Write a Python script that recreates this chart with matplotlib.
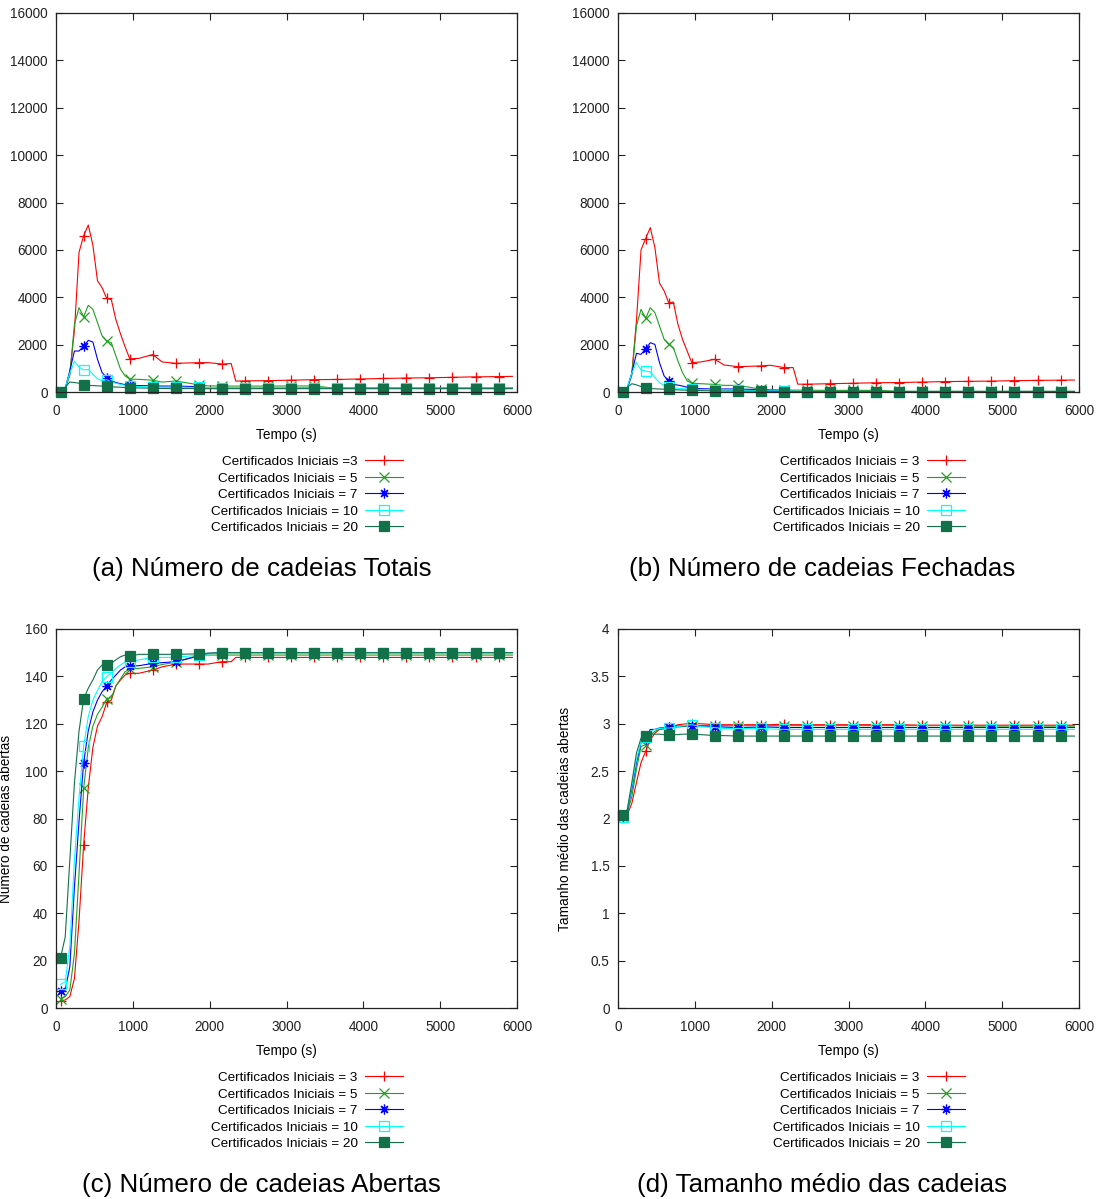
import matplotlib
matplotlib.use("Agg")
import matplotlib.pyplot as plt
from matplotlib.ticker import FormatStrFormatter

plt.rcParams["font.family"] = ["Liberation Sans", "DejaVu Sans"]

# sample times (s); markers are drawn every 300 s starting at 60 s
tempo = [60, 120, 180, 240, 300, 360, 420, 480, 540, 600, 660, 720, 780, 840, 900, 960,
         1080, 1260, 1380, 1560, 1860, 1980, 2160, 2280, 2340,
         2460, 2760, 3060, 3360, 3660, 3960, 4260, 4560, 4860, 5160, 5460, 5760,
         5940]
marker_times = [60, 360, 660, 960, 1260, 1560, 1860, 2160, 2460, 2760, 3060, 3360,
                3660, 3960, 4260, 4560, 4860, 5160, 5460, 5760]

# ── (a) total chains ─────────────────────────────────────────────────────────
tot_c3 = [0, 150, 800, 2600, 5900, 6600, 7050, 6200, 4700, 4400, 3950, 3900, 3050, 2450, 1900, 1400,
          1420, 1580, 1270, 1210, 1240, 1240, 1180, 1200, 460,
          470, 480, 500, 520, 530, 550, 570, 590, 600, 620, 640, 650,
          660]
tot_c5 = [0, 120, 700, 2860, 3560, 3180, 3660, 3490, 2930, 2370, 2150, 2080, 1520, 960, 680, 540,
          535, 495, 420, 465, 300, 260, 250, 250, 250,
          250, 250, 255, 255, 150, 150, 150, 150, 150, 150, 150, 150,
          150]
tot_c7 = [0, 150, 900, 1730, 1730, 1940, 2180, 2110, 1380, 820, 600, 470, 400, 350, 310, 280,
          270, 260, 250, 250, 225, 185, 170, 170, 170,
          170, 170, 170, 170, 170, 170, 170, 170, 170, 170, 170, 170,
          170]
tot_c10 = [0, 200, 800, 1300, 1050, 930, 960, 750, 560, 470, 520, 420, 370, 320, 280, 250,
           230, 210, 200, 200, 190, 185, 180, 180, 180,
           180, 180, 170, 170, 170, 170, 170, 170, 170, 170, 170, 170,
           170]
tot_c20 = [0, 200, 420, 400, 370, 290, 280, 270, 260, 250, 240, 220, 210, 200, 190, 180,
           170, 160, 150, 150, 145, 140, 140, 140, 140,
           140, 140, 140, 140, 140, 140, 140, 140, 140, 140, 140, 140,
           140]

# ── (b) closed chains ────────────────────────────────────────────────────────
fech_c3 = [0, 150, 800, 3000, 6000, 6480, 6940, 6100, 4600, 4270, 3770, 3800, 2860, 2220, 1730, 1240,
           1270, 1380, 1140, 1070, 1100, 1130, 1030, 1030, 330,
           330, 350, 370, 390, 400, 420, 440, 450, 460, 480, 490, 500,
           505]
fech_c5 = [0, 150, 700, 2790, 3490, 3110, 3560, 3350, 2790, 2230, 2010, 1870, 1310, 820, 470, 370,
           350, 320, 280, 280, 120, 100, 90, 80, 80,
           75, 70, 70, 70, 30, 30, 30, 30, 30, 30, 30, 30,
           30]
fech_c7 = [0, 150, 800, 1630, 1590, 1830, 2080, 2010, 1240, 680, 465, 320, 290, 250, 200, 155,
           140, 127, 127, 127, 98, 56, 30, 25, 20,
           20, 20, 20, 20, 20, 20, 20, 20, 20, 20, 20, 20,
           20]
fech_c10 = [0, 200, 800, 1240, 930, 890, 845, 605, 394, 280, 225, 183, 160, 140, 125, 113,
            100, 90, 80, 70, 60, 50, 40, 30, 25,
            20, 20, 20, 20, 20, 20, 20, 20, 20, 20, 20, 20,
            20]
fech_c20 = [0, 200, 350, 300, 230, 155, 145, 135, 125, 118, 113, 100, 90, 80, 75, 70,
            60, 50, 40, 35, 30, 25, 20, 20, 20,
            20, 20, 20, 20, 20, 20, 20, 20, 20, 20, 20, 20,
            20]

# ── (c) open chains ──────────────────────────────────────────────────────────
abe_c3 = [3, 3.4, 4.8, 12.5, 37, 69, 93, 110, 119, 123, 129, 130, 136, 138.5, 140.6, 141.3,
          141.3, 142.7, 144, 145.2, 145.2, 145.2, 146.2, 146.2, 148,
          148, 148, 148, 148, 148, 148, 148, 148, 148, 148, 148, 148,
          148]
abe_c5 = [4, 4.8, 7.6, 23, 57, 92.7, 110, 119, 124, 127, 130.5, 131, 136, 139, 142, 143,
          143.4, 144, 145, 146, 149, 149, 149, 149, 149,
          149, 149, 149, 149, 149, 149, 149, 149, 149, 149, 149, 149,
          149]
abe_c7 = [7, 7.6, 17.5, 51, 79, 103.6, 117, 125, 130, 133.5, 136, 138.5, 140.6, 142.7, 144, 144.4,
          144.5, 145.5, 145.8, 146.2, 148.6, 149.7, 150, 150, 150,
          150, 150, 150, 150, 150, 150, 150, 150, 150, 150, 150, 150,
          150]
abe_c10 = [10, 11, 26, 62.5, 89, 110.6, 123, 130, 134, 137.8, 139.9, 141.3, 143.4, 144.8, 146.2, 146.2,
           147, 148, 148, 148, 149, 149.5, 150, 150, 150,
           150, 150, 150, 150, 150, 150, 150, 150, 150, 150, 150, 150,
           150]
abe_c20 = [21.3, 30, 62.5, 95, 117, 130.5, 135, 138.5, 142.7, 144.8, 145, 145.5, 147, 148.3, 149, 148.6,
           149.3, 149.3, 149.3, 149.3, 149.5, 149.8, 150, 150, 150,
           150, 150, 150, 150, 150, 150, 150, 150, 150, 150, 150, 150,
           150]

# ── (d) mean chain size ──────────────────────────────────────────────────────
tam_c3 = [2.03, 2.04, 2.16, 2.38, 2.59, 2.71, 2.83, 2.90, 2.94, 2.95, 2.965, 2.97, 2.99, 2.995, 3.0, 3.0,
          3.0, 2.99, 2.99, 2.99, 2.99, 2.99, 2.995, 2.99, 2.99,
          2.99, 2.99, 2.99, 2.99, 2.99, 2.985, 2.985, 2.985, 2.985, 2.985, 2.985, 2.985,
          2.985]
tam_c5 = [2.03, 2.06, 2.23, 2.52, 2.76, 2.78, 2.88, 2.92, 2.94, 2.945, 2.955, 2.96, 2.965, 2.97, 2.975, 2.98,
          2.98, 2.98, 2.98, 2.98, 2.98, 2.98, 2.98, 2.98, 2.98,
          2.98, 2.98, 2.98, 2.98, 2.98, 2.98, 2.98, 2.975, 2.975, 2.975, 2.975, 2.975,
          2.975]
tam_c7 = [2.02, 2.08, 2.31, 2.59, 2.80, 2.84, 2.94, 2.94, 2.955, 2.96, 2.97, 2.975, 2.975, 2.98, 2.98, 2.98,
          2.975, 2.97, 2.965, 2.96, 2.965, 2.965, 2.96, 2.96, 2.96,
          2.96, 2.96, 2.96, 2.96, 2.96, 2.96, 2.96, 2.96, 2.96, 2.96, 2.96, 2.96,
          2.96]
tam_c10 = [2.02, 2.09, 2.34, 2.62, 2.81, 2.86, 2.92, 2.94, 2.95, 2.955, 2.955, 2.96, 2.97, 2.98, 2.985, 2.99,
           2.97, 2.96, 2.95, 2.95, 2.95, 2.945, 2.94, 2.94, 2.94,
           2.94, 2.94, 2.94, 2.94, 2.94, 2.94, 2.94, 2.94, 2.94, 2.94, 2.94, 2.94,
           2.94]
tam_c20 = [2.04, 2.09, 2.38, 2.69, 2.85, 2.875, 2.89, 2.89, 2.89, 2.885, 2.885, 2.885, 2.885, 2.89, 2.89, 2.89,
           2.885, 2.875, 2.875, 2.87, 2.87, 2.87, 2.87, 2.87, 2.87,
           2.87, 2.87, 2.87, 2.87, 2.87, 2.87, 2.87, 2.87, 2.87, 2.87, 2.87, 2.87,
           2.87]

cert_values = [3, 5, 7, 10, 20]
labels_std = [f"Certificados Iniciais = {c}" for c in cert_values]
labels_a = ["Certificados Iniciais =3"] + labels_std[1:]

colors = ["#ff0000", "#20a020", "#0000ff", "#00ffff", "#13714a"]
styles = [
    dict(marker="+", markersize=7),
    dict(marker="x", markersize=6.5),
    dict(marker=(8, 2, 0), markersize=7),
    dict(marker="s", markersize=7, markerfacecolor="none"),
    dict(marker="s", markersize=7.5),
]

markevery = [i for i, t in enumerate(tempo) if t in marker_times]

W, H = 1101, 1199
fig = plt.figure(figsize=(W / 100, H / 100), dpi=100)


def px_axes(left, top, right, bottom):
    return fig.add_axes([left / W, 1 - bottom / H, (right - left) / W, (bottom - top) / H])


def draw_panel(ax, series, labels, ymax, ystep, fmt=None):
    for ys, lab, col, st in zip(series, labels, colors, styles):
        ax.plot(tempo, ys, color=col, lw=0.8, markeredgewidth=0.9,
                markevery=markevery, label=lab, clip_on=False, **st)
    ax.set_xlim(0, 6000)
    ax.set_ylim(0, ymax)
    ax.set_xticks(range(0, 6001, 1000))
    ticks = [i * ystep for i in range(int(round(ymax / ystep)) + 1)]
    ax.set_yticks(ticks)
    if fmt:
        ax.yaxis.set_major_formatter(FormatStrFormatter(fmt))
    ax.tick_params(direction="in", length=5, width=0.8, top=True, right=True,
                   labelsize=9.8, pad=6, colors="#222222")
    ax.tick_params(axis="x", pad=8.5)
    for s in ax.spines.values():
        s.set_linewidth(0.9)
        s.set_color("#222222")
    ax.set_xlabel("Tempo (s)", fontsize=9.8)
    ax.xaxis.set_label_coords(0.5, -0.095)
    ax.xaxis.label.set_va("top")
    leg = ax.legend(loc="upper right", bbox_to_anchor=(0.7527, -0.168), frameon=False,
                    markerfirst=False, fontsize=9.7, handlelength=2.8, handletextpad=0.55,
                    labelspacing=0.3, borderpad=0, borderaxespad=0)
    return leg


ax_a = px_axes(56, 13, 517, 392)
draw_panel(ax_a, [tot_c3, tot_c5, tot_c7, tot_c10, tot_c20], labels_a, 16000, 2000)

ax_b = px_axes(618, 13, 1079, 392)
draw_panel(ax_b, [fech_c3, fech_c5, fech_c7, fech_c10, fech_c20], labels_std, 16000, 2000)

ax_c = px_axes(56, 629, 517, 1008)
draw_panel(ax_c, [abe_c3, abe_c5, abe_c7, abe_c10, abe_c20], labels_std, 160, 20)
ax_c.set_ylabel("Número de cadeias abertas", fontsize=9.8)
ax_c.yaxis.set_label_coords(-0.094, 0.5)

ax_d = px_axes(618, 629, 1079, 1008)
draw_panel(ax_d, [tam_c3, tam_c5, tam_c7, tam_c10, tam_c20], labels_std, 4, 0.5, fmt="%g")
ax_d.set_ylabel("Tamanho médio das cadeias abertas", fontsize=9.8)
ax_d.yaxis.set_label_coords(-0.1, 0.5)

captions = [
    ("(a) Número de cadeias Totais", 262, 569),
    ("(b) Número de cadeias Fechadas", 822, 569),
    ("(c) Número de cadeias Abertas", 261, 1185),
    ("(d) Tamanho médio das cadeias", 822, 1185),
]
for txt, x, y in captions:
    fig.text(x / W, 1 - y / H, txt, fontsize=18.7, ha="center", va="center")

fig.savefig("out.png", dpi=100)
